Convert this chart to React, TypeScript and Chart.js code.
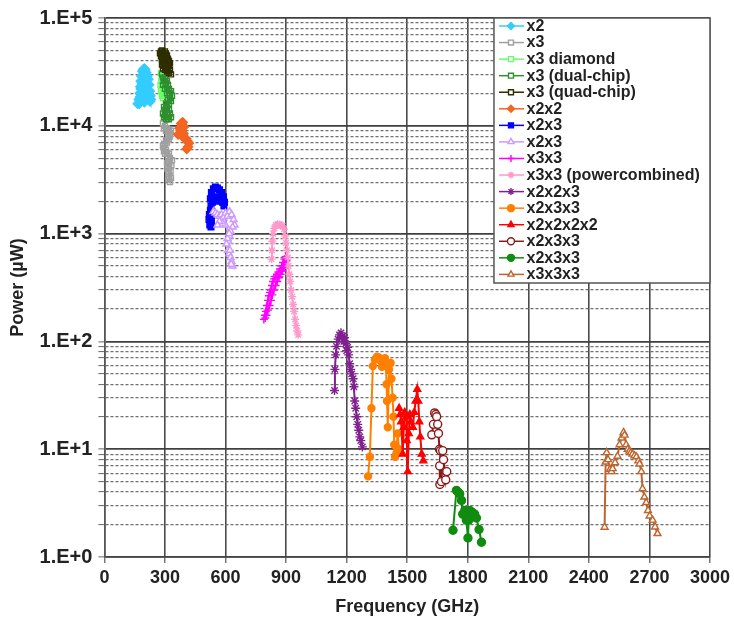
import React, { useEffect, useRef } from 'react';
import { Chart, registerables } from 'chart.js';
import { drawPoint } from 'chart.js/helpers';

Chart.register(...registerables);

// ---- axis ticks ----
const xTickValues = [0, 300, 600, 900, 1200, 1500, 1800, 2100, 2400, 2700, 3000];
const yDecades = [1, 10, 100, 1000, 10000, 100000];
const yTickLabels = ['1.E+0', '1.E+1', '1.E+2', '1.E+3', '1.E+4', '1.E+5'];
const yMinorMultipliers = [2, 3, 4, 5, 6, 7, 8, 9];

// ---- series: [frequency GHz, power µW] ----
const x2Data: [number, number][] = [
  [165, 16000], [170, 17500], [175, 20000], [178, 23000], [180, 26000], [183, 29000], [188, 32000],
  [193, 33500], [198, 34000], [203, 33000], [208, 31000], [213, 29000], [218, 27000], [222, 24000],
  [225, 21000], [228, 19000], [230, 17500], [226, 16800], [222, 18500], [215, 21000], [210, 23000],
  [205, 20000], [202, 17500], [198, 16500], [194, 19000], [190, 22000], [185, 25000], [180, 22000],
  [176, 18500], [172, 16000],
];
const x3Data: [number, number][] = [
  [290, 10500], [295, 9500], [300, 10000], [305, 9000], [310, 9500], [315, 8800], [320, 9200],
  [325, 8500], [330, 9000], [325, 8000], [320, 7500], [315, 7800], [310, 7000], [305, 7300],
  [300, 6800], [295, 6200], [290, 6500], [295, 5800], [300, 5500], [305, 6000], [310, 5600],
  [315, 5200], [320, 5500], [325, 5000], [320, 4600], [315, 4200], [310, 4500], [312, 4000],
  [318, 3700], [322, 3400], [318, 3200], [325, 3000], [330, 3300], [328, 3800], [332, 4300], [335, 4800],
];
const x3DiamondData: [number, number][] = [
  [280, 31000], [285, 29000], [282, 26000], [278, 24000], [280, 21000], [285, 19000], [290, 18000],
  [288, 20000], [292, 23000], [295, 25000], [290, 27000], [300, 28000],
];
const x3DualData: [number, number][] = [
  [285, 30000], [290, 28000], [295, 26000], [300, 27000], [305, 25000], [310, 26000], [315, 24000],
  [320, 22000], [325, 20000], [330, 21000], [335, 19000], [330, 17000], [325, 18000], [320, 16000],
  [315, 17500], [310, 15000], [305, 16000], [300, 14000], [295, 15000], [290, 13000], [295, 12000],
  [300, 12500], [305, 11500], [310, 13000], [315, 12000], [320, 11500], [325, 13000], [330, 12000],
  [320, 14000], [310, 20000], [300, 22000], [290, 24000],
];
const x3QuadData: [number, number][] = [
  [275, 47000], [280, 49000], [285, 50000], [290, 48000], [295, 46000], [300, 49000], [305, 47000],
  [310, 45000], [315, 42000], [320, 40000], [325, 38000], [320, 36000], [315, 38000], [310, 40000],
  [305, 42000], [300, 44000], [295, 41000], [290, 39000], [285, 42000], [280, 44000], [285, 37000],
  [290, 34000], [295, 36000], [300, 33000], [305, 35000], [310, 32000], [315, 34000], [320, 31000],
  [325, 33000], [330, 30000],
];
const x2x2Data: [number, number][] = [
  [365, 8300], [372, 9500], [380, 10500], [388, 10800], [395, 9800], [392, 8500], [385, 8000],
  [395, 7800], [405, 7600], [412, 7200], [418, 6900], [415, 6400], [408, 6100],
];
const x2x3BlueData: [number, number][] = [
  [525, 2100], [530, 2400], [540, 2600], [550, 2700], [560, 2650], [570, 2550], [580, 2400],
  [590, 2200], [595, 1950], [592, 1800], [585, 1950], [575, 2150], [565, 2000], [555, 2200],
  [545, 2100], [535, 1950], [528, 1800], [525, 1650], [520, 1500], [518, 1350], [522, 1200],
  [528, 1150], [530, 1300], [528, 1450], [532, 1600],
];
const x2x3LavenderData: [number, number][] = [
  [540, 1600], [550, 1550], [560, 1500], [570, 1450], [580, 1500], [590, 1400], [600, 1550],
  [610, 1450], [620, 1600], [630, 1500], [640, 1350], [645, 1200], [635, 1150], [625, 1050],
  [620, 950], [615, 850], [610, 900], [605, 800], [612, 700], [618, 650], [625, 600], [630, 550],
  [635, 500], [628, 520], [622, 700], [618, 1000], [600, 1200], [585, 1250], [570, 1300], [560, 1200],
];
const x3x3Data: [number, number][] = [
  [790, 160], [795, 175], [800, 190], [805, 215], [810, 240], [815, 265], [820, 285], [825, 300],
  [830, 330], [835, 360], [840, 380], [848, 400], [855, 420], [862, 440], [870, 470], [878, 500],
  [885, 540], [892, 580], [898, 610], [902, 560], [897, 520], [890, 480], [882, 450], [873, 420],
  [865, 390], [856, 360], [848, 330], [840, 300], [832, 270], [825, 240], [818, 215], [810, 195],
  [803, 175], [797, 165],
];
const x3x3PowerData: [number, number][] = [
  [828, 580], [830, 700], [832, 850], [836, 1000], [842, 1120], [850, 1200], [858, 1220], [866, 1210],
  [874, 1200], [882, 1180], [890, 1100], [896, 950], [900, 820], [904, 700], [908, 600], [912, 500],
  [916, 420], [920, 360], [925, 300], [930, 260], [935, 220], [940, 190], [945, 160], [950, 140],
  [955, 125], [960, 115],
];
const x2x2x3Data: [number, number][] = [
  [1140, 35], [1142, 55], [1146, 75], [1150, 90], [1158, 105], [1165, 115], [1172, 120], [1180, 112],
  [1186, 100], [1190, 108], [1195, 95], [1200, 82], [1205, 88], [1210, 75], [1215, 62], [1220, 55],
  [1225, 50], [1232, 45], [1236, 38], [1240, 28], [1245, 24], [1250, 20], [1255, 17], [1260, 15],
  [1265, 13], [1270, 12], [1278, 10.5],
];
const x2x3x3OrangeData: [number, number][] = [
  [1306, 5.6], [1315, 8.5], [1323, 24], [1330, 59], [1340, 68], [1350, 72], [1360, 71], [1368, 66],
  [1375, 58], [1380, 64], [1390, 70], [1394, 62], [1398, 40], [1400, 28], [1404, 16], [1410, 55],
  [1418, 63], [1422, 45], [1428, 30], [1432, 20], [1436, 11], [1440, 8.5], [1447, 9.2], [1452, 14],
  [1460, 10],
];
const x2x2x2x2Data: [number, number][] = [
  [1460, 24], [1465, 21], [1470, 18], [1478, 9], [1483, 16], [1488, 22], [1495, 20], [1498, 12],
  [1503, 6.2], [1508, 14], [1513, 21], [1518, 18], [1528, 16], [1535, 22], [1542, 28], [1550, 36],
  [1555, 28], [1560, 18], [1565, 13], [1572, 9], [1580, 7.8],
];
const x2x3x3DarkRedData: [number, number][] = [
  [1622, 13.6], [1630, 17], [1636, 21.7], [1642, 21], [1646, 20], [1651, 17], [1655, 14], [1660, 10],
  [1665, 9.7], [1661, 7], [1662, 4.7], [1670, 5], [1676, 9.7], [1680, 8], [1691, 5.2], [1696, 6.2],
];
const x2x3x3GreenData: [number, number][] = [
  [1727, 1.77], [1744, 4.15], [1752, 4.0], [1760, 3.86], [1769, 3.35], [1775, 2.5], [1785, 2.7],
  [1793, 2.2], [1801, 1.5], [1805, 2.2], [1810, 2.7], [1822, 2.6], [1834, 2.5], [1843, 2.3],
  [1856, 1.8], [1868, 1.37],
];
const x3x3x3Data: [number, number][] = [
  [2478, 1.89], [2483, 7.6], [2488, 9.3], [2495, 8.0], [2505, 6.5], [2512, 6.2], [2518, 6.6],
  [2530, 7.5], [2542, 8.6], [2552, 11], [2562, 12.7], [2572, 14.3], [2577, 13.5], [2585, 11],
  [2593, 10], [2601, 9.6], [2608, 9.3], [2616, 9.0], [2626, 8.7], [2636, 8.5], [2645, 7.8],
  [2651, 7.3], [2660, 6.2], [2666, 4.3], [2675, 3.6], [2684, 3.2], [2693, 2.7], [2701, 2.4],
  [2716, 2.2], [2728, 1.9], [2740, 1.65],
];

const seriesLabels = [
  'x2', 'x3', 'x3 diamond', 'x3 (dual-chip)', 'x3 (quad-chip)', 'x2x2', 'x2x3', 'x2x3', 'x3x3',
  'x3x3 (powercombined)', 'x2x2x3', 'x2x3x3', 'x2x2x2x2', 'x2x3x3', 'x2x3x3', 'x3x3x3',
];
const seriesData = [
  x2Data, x3Data, x3DiamondData, x3DualData, x3QuadData, x2x2Data, x2x3BlueData, x2x3LavenderData,
  x3x3Data, x3x3PowerData, x2x2x3Data, x2x3x3OrangeData, x2x2x2x2Data, x2x3x3DarkRedData,
  x2x3x3GreenData, x3x3x3Data,
];

// styles (colour, marker, fill mode, marker radius)
// fill: 'solid' = filled with colour, 'white' = open (white inside), 'clear' = open (see-through)
const seriesStyles: { color: string; marker: string; fill: string; radius: number }[] = [
  { color: '#33CCFF', marker: 'rectRot', fill: 'solid', radius: 4.5 },
  { color: '#A0A0A0', marker: 'rect', fill: 'clear', radius: 3.5 },
  { color: '#66FF66', marker: 'rect', fill: 'clear', radius: 3.5 },
  { color: '#2F8F2F', marker: 'rect', fill: 'clear', radius: 3.5 },
  { color: '#2E2E00', marker: 'rect', fill: 'clear', radius: 3.5 },
  { color: '#F26522', marker: 'rectRot', fill: 'solid', radius: 4.5 },
  { color: '#0000FF', marker: 'rect', fill: 'solid', radius: 4 },
  { color: '#CC99FF', marker: 'triangle', fill: 'white', radius: 4 },
  { color: '#FF00FF', marker: 'cross', fill: 'white', radius: 4 },
  { color: '#FF99CC', marker: 'star', fill: 'white', radius: 4 },
  { color: '#80208F', marker: 'star', fill: 'white', radius: 4.5 },
  { color: '#FF8000', marker: 'circle', fill: 'solid', radius: 3.5 },
  { color: '#FF0000', marker: 'triangle', fill: 'solid', radius: 4 },
  { color: '#8B1A1A', marker: 'circle', fill: 'white', radius: 4 },
  { color: '#108C10', marker: 'circle', fill: 'solid', radius: 4 },
  { color: '#C0642E', marker: 'triangle', fill: 'white', radius: 4 },
];

const FONT = '"Liberation Sans", Arial, Helvetica, sans-serif';

const yTickValues: number[] = [];
yDecades.forEach((d, i) => {
  yTickValues.push(d);
  if (i < yDecades.length - 1) yMinorMultipliers.forEach((m) => yTickValues.push(d * m));
});

const isMajorY = (v: number) => yDecades.some((d) => Math.abs(d - v) < d * 1e-9);

const insideLegend = {
  id: 'insideLegend',
  afterDraw(chart: any) {
    const { ctx, chartArea } = chart;
    const right = chartArea.right;
    const left = right - 216;
    const top = chartArea.top;
    const rowH = 16.56;
    const bottom = top + 265;
    ctx.save();
    ctx.fillStyle = '#ffffff';
    ctx.fillRect(left, top, right - left, bottom - top);
    ctx.strokeStyle = '#555555';
    ctx.lineWidth = 1.5;
    ctx.strokeRect(left, top, right - left, bottom - top);
    chart.data.datasets.forEach((ds: any, i: number) => {
      const st = seriesStyles[i];
      const y = top + 8 + i * rowH;
      ctx.strokeStyle = ds.borderColor;
      ctx.lineWidth = 1.5;
      ctx.setLineDash([]);
      ctx.beginPath();
      ctx.moveTo(left + 5, y);
      ctx.lineTo(left + 30, y);
      ctx.stroke();
      ctx.fillStyle = st.fill === 'solid' ? st.color : '#ffffff';
      ctx.strokeStyle = ds.pointBorderColor;
      ctx.lineWidth = ds.pointBorderWidth;
      drawPoint(ctx, { pointStyle: ds.pointStyle, radius: 3.5, borderWidth: ds.pointBorderWidth, rotation: 0 } as any, left + 17, y);
      ctx.fillStyle = '#222222';
      ctx.font = `bold 16px ${FONT}`;
      ctx.textAlign = 'left';
      ctx.textBaseline = 'middle';
      ctx.fillText(ds.label, left + 32.5, y + 0.5);
    });
    ctx.restore();
  },
};

export default function App() {
  const canvasRef = useRef<HTMLCanvasElement | null>(null);

  useEffect(() => {
    const canvas = canvasRef.current;
    if (!canvas) return;
    const n = seriesLabels.length;
    const datasets = seriesLabels.map((label, i) => {
      const st = seriesStyles[i];
      const bg = st.fill === 'solid' ? st.color : st.fill === 'white' ? '#ffffff' : 'rgba(255,255,255,0)';
      return {
        label,
        data: seriesData[i],
        showLine: true,
        borderColor: st.color,
        backgroundColor: st.color,
        borderWidth: 2,
        pointStyle: st.marker,
        pointRadius: st.radius,
        pointBorderWidth: 1.4,
        pointBorderColor: st.color,
        pointBackgroundColor: bg,
        tension: 0,
        order: n - i,
      };
    });

    const chart = new Chart(canvas, {
      type: 'scatter',
      data: { datasets: datasets as any },
      plugins: [insideLegend],
      options: {
        responsive: false,
        maintainAspectRatio: false,
        devicePixelRatio: 1,
        animation: false,
        layout: { padding: { left: 0, top: 15, right: 24, bottom: 0 } },
        plugins: {
          legend: { display: false },
          tooltip: { enabled: false },
        },
        scales: {
          x: {
            type: 'linear',
            min: 0,
            max: 3000,
            afterBuildTicks: (scale: any) => {
              scale.ticks = xTickValues.map((v) => ({ value: v }));
            },
            afterFit: (scale: any) => {
              scale.height = 63;
            },
            ticks: {
              autoSkip: false,
              maxRotation: 0,
              padding: 4,
              color: '#222222',
              font: { family: FONT, size: 18, weight: 'bold' },
              callback: (v: any) => String(v),
            },
            grid: {
              color: '#4a4a4a',
              lineWidth: 1.6,
              tickLength: 6,
              tickColor: '#555555',
              tickWidth: 1.2,
            },
            border: { color: '#444444', width: 1.6 },
            title: {
              display: true,
              text: 'Frequency (GHz)',
              color: '#222222',
              font: { family: FONT, size: 18, weight: 'bold' },
              padding: { top: 0, bottom: 2 },
            },
          },
          y: {
            type: 'logarithmic',
            min: 1,
            max: 100000,
            afterBuildTicks: (scale: any) => {
              scale.ticks = yTickValues.map((v) => ({ value: v, major: isMajorY(v) }));
            },
            afterFit: (scale: any) => {
              scale.width = 104.4;
            },
            ticks: {
              autoSkip: false,
              padding: 6,
              color: '#222222',
              font: { family: FONT, size: 20, weight: 'bold' },
              callback: (v: any) => {
                const idx = yDecades.findIndex((d) => Math.abs(d - Number(v)) < d * 1e-9);
                return idx >= 0 ? yTickLabels[idx] : '';
              },
            },
            grid: {
              color: (c: any) => (c.tick && isMajorY(c.tick.value) ? '#404040' : '#707070'),
              lineWidth: (c: any) => (c.tick && isMajorY(c.tick.value) ? 1.8 : 1.2),
              tickLength: 6,
              tickColor: '#666666',
              tickWidth: 1,
            },
            border: {
              color: '#555555',
              width: 1.5,
              dash: (c: any) => (c.tick && !isMajorY(c.tick.value) ? [3, 2] : []),
            } as any,
            title: {
              display: true,
              text: 'Power (µW)',
              color: '#222222',
              font: { family: FONT, size: 18, weight: 'bold' },
              padding: { top: 7, bottom: 0 },
            },
          },
        },
      } as any,
    });
    return () => chart.destroy();
  }, []);

  return (
    <div style={{ position: 'fixed', left: 0, top: 0, width: 734, height: 620, background: '#ffffff' }}>
      <canvas ref={canvasRef} width={734} height={620} style={{ display: 'block', width: 734, height: 620 }} />
    </div>
  );
}
